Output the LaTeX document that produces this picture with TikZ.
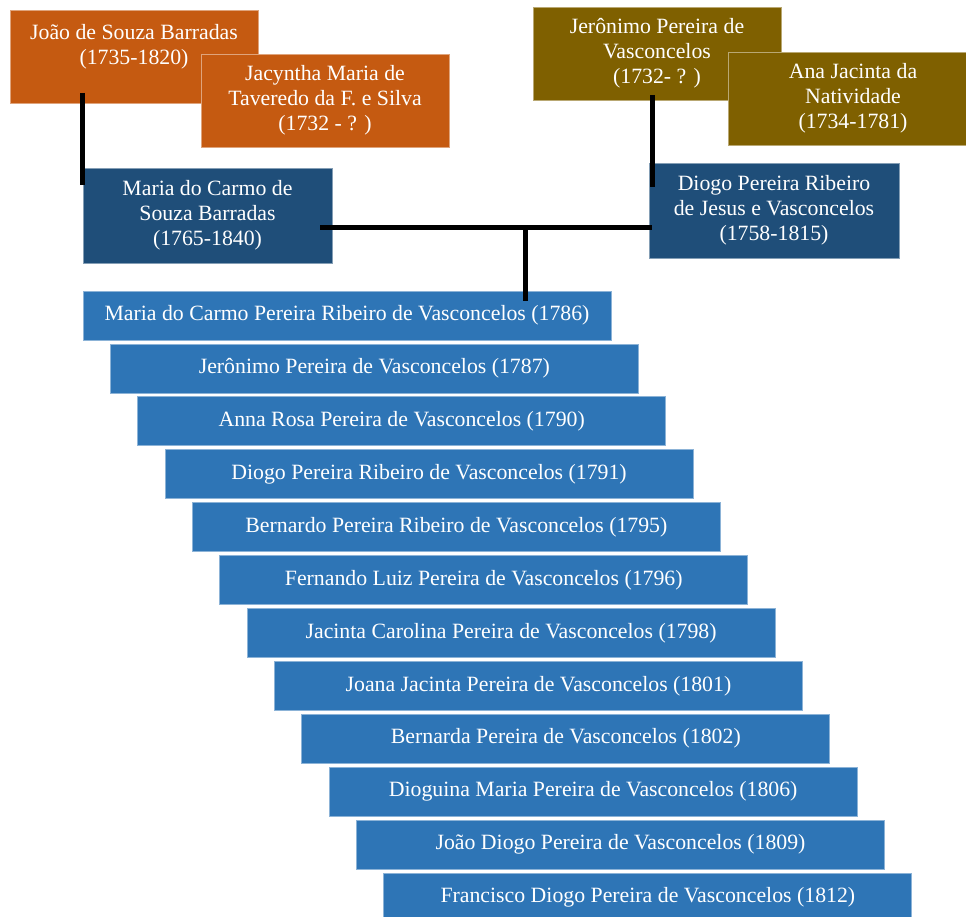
\documentclass[tikz,border=0pt]{standalone}
\usepackage{fontspec}
\setmainfont{Liberation Serif}
\definecolor{orangeB}{HTML}{C55A11}
\definecolor{goldB}{HTML}{7F6000}
\definecolor{navyB}{HTML}{1F4E79}
\definecolor{blueB}{HTML}{2E75B6}
\begin{document}
\begin{tikzpicture}[x=1pt,y=-1pt,
  box/.style={anchor=north west, inner sep=0pt, outer sep=0pt, text=white,
    align=center, font=\fontsize{21.8}{25}\selectfont, line width=0.8pt},
  orangebox/.style={box, fill=orangeB, draw=orangeB!55!white,
    minimum width=248pt, minimum height=93pt},
  goldbox/.style={box, fill=goldB, draw=goldB!55!white,
    minimum width=248pt, minimum height=93pt},
  parentbox/.style={box, fill=navyB, draw=navyB!55!white,
    minimum width=249pt, minimum height=95pt},
  childbox/.style={box, fill=blueB, draw=blueB!55!white,
    minimum width=528pt, minimum height=49pt},
  link/.style={line width=5pt, black}
]
\clip (0,0) rectangle (966,917);
\useasboundingbox (0,0) rectangle (966,917);

% grandparents (left)
\node[orangebox] (joao) at (10,10) {João de Souza Barradas\\(1735-1820)\\\mbox{}};
\node[orangebox] (jacyntha) at (201,54) {Jacyntha Maria de\\Taveredo da F. e Silva\\(1732 - ? )};
% grandparents (right)
\node[goldbox] (jeronimo) at (533,7) {Jerônimo Pereira de\\Vasconcelos\\(1732- ? )};
\node[goldbox, minimum width=250pt] (ana) at (728,52) {Ana Jacinta da\\Natividade\\(1734-1781)};
% parents
\node[parentbox] (mae) at (83,168) {Maria do Carmo de\\Souza Barradas\\(1765-1840)};
\node[parentbox, minimum width=250pt] (pai) at (649,163) {Diogo Pereira Ribeiro\\de Jesus e Vasconcelos\\(1758-1815)};

% children
\foreach \t [count=\i from 0] in {
  Maria do Carmo Pereira Ribeiro de Vasconcelos (1786),
  Jerônimo Pereira de Vasconcelos (1787),
  Anna Rosa Pereira de Vasconcelos (1790),
  Diogo Pereira Ribeiro de Vasconcelos (1791),
  Bernardo Pereira Ribeiro de Vasconcelos (1795),
  Fernando Luiz Pereira de Vasconcelos (1796),
  Jacinta Carolina Pereira de Vasconcelos (1798),
  Joana Jacinta Pereira de Vasconcelos (1801),
  Bernarda Pereira de Vasconcelos (1802),
  Dioguina Maria Pereira de Vasconcelos (1806),
  João Diogo Pereira de Vasconcelos (1809),
  Francisco Diogo Pereira de Vasconcelos (1812)}
  \node[childbox] (c\i) at ({83+27.35*\i},{291+52.9*\i}) {\t};

% connectors
\draw[link] ([shift={(72,-10)}]joao.south west) -- ([shift={(-1,17)}]mae.north west);
\draw[link] ([shift={(119,-5)}]jeronimo.south west) -- ([shift={(3,24)}]pai.north west);
\coordinate (mid) at ([shift={(442,-63)}]c0.north west);
\draw[link] ([shift={(-12,-35)}]mae.south east) -- ([shift={(3,-30)}]pai.south west);
\draw[link] (mid) -- ([shift={(442,10)}]c0.north west);
\end{tikzpicture}
\end{document}
